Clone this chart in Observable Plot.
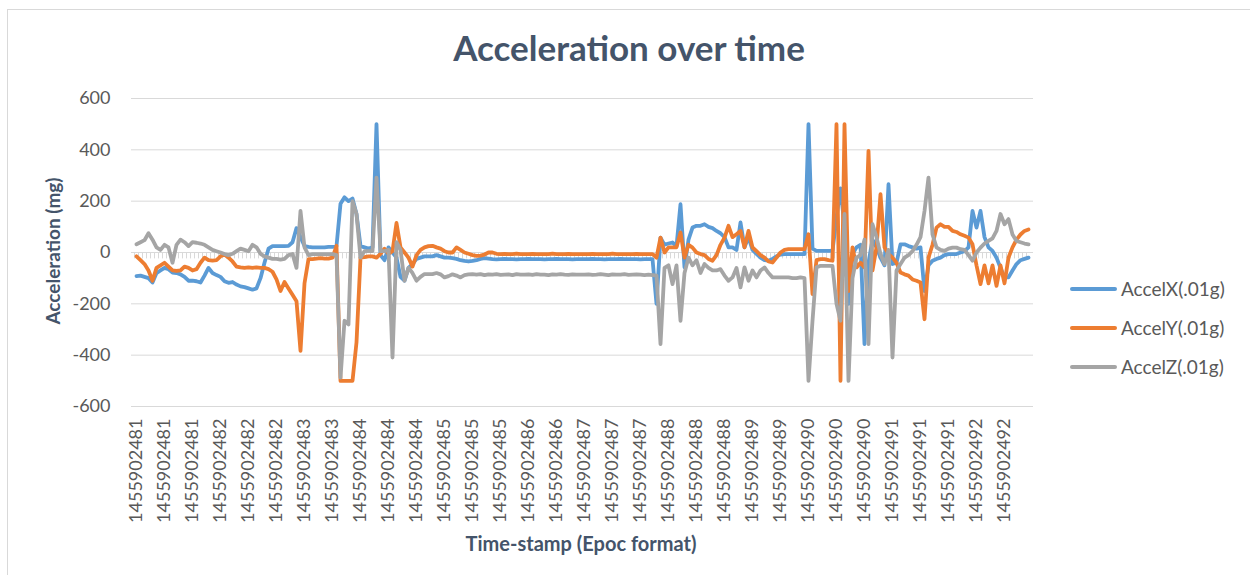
<!DOCTYPE html>
<html><head><meta charset="utf-8">
<script src="https://cdn.jsdelivr.net/npm/d3@7"></script>
<script src="https://cdn.jsdelivr.net/npm/@observablehq/plot@0.6"></script>
<style>
html,body{margin:0;padding:0;background:#fff;overflow:hidden;width:1250px;height:575px;position:relative;}
#frame{position:absolute;left:7px;top:9px;width:1400px;height:700px;border-left:1px solid #d9d9d9;border-top:1px solid #d9d9d9;}
#chart{position:absolute;left:0;top:0;}
.t{position:absolute;white-space:nowrap;line-height:1;font-family:Lato,"Open Sans",sans-serif;}
#title{left:0;width:1258px;text-align:center;top:30px;font-size:35px;font-weight:bold;color:#44546a;}
#ytitle{left:52px;top:251px;transform:translate(-50%,-50%) rotate(-90deg);font-size:19px;font-weight:bold;color:#44546a;}
#xtitle{left:581px;top:543px;transform:translate(-50%,-50%);font-size:20px;font-weight:bold;color:#44546a;}
.leg{position:absolute;left:1070px;height:0;}
.leg span.l{position:absolute;left:0;top:-2px;width:47px;height:4px;border-radius:2px;}
.leg span.x{position:absolute;left:51px;top:-10px;font-size:19px;color:#595959;line-height:1;white-space:nowrap;font-family:Lato,"Open Sans",sans-serif;}
</style></head>
<body>
<div id="frame"></div>
<div id="chart"></div>
<div class="t" id="title">Acceleration over time</div>
<div class="t" id="ytitle">Acceleration (mg)</div>
<div class="t" id="xtitle">Time-stamp (Epoc format)</div>
<div id="legend"></div>
<script>
// Category tick labels (one every 7 samples)
const tickLabels = [
  "1455902481","1455902481","1455902481","1455902482","1455902482","1455902482",
  "1455902483","1455902483","1455902484","1455902484","1455902484","1455902485",
  "1455902485","1455902485","1455902486","1455902486","1455902487","1455902487",
  "1455902487","1455902488","1455902488","1455902488","1455902489","1455902489",
  "1455902490","1455902490","1455902490","1455902491","1455902491","1455902491",
  "1455902492","1455902492"];
const labelStep = 7;

const seriesNames = ["AccelX(.01g)", "AccelY(.01g)", "AccelZ(.01g)"];
const seriesColors = ["#5b9bd5", "#ed7d31", "#a5a5a5"];

const accelX = [
  -92,-90,-95,-100,-117,-80,-70,-60,-65,-78,-80,-85,-95,-110,-110,-112,-117,-90,-60,-80,
  -88,-95,-112,-118,-115,-125,-132,-135,-140,-145,-140,-100,-40,15,25,25,25,
  25,26,40,95,60,25,22,20,20,20,20,22,22,25,190,215,200,210,150,25,
  20,15,20,500,-10,-30,20,0,-20,-95,-110,-60,-45,-25,-20,-15,-15,-15,
  -10,-15,-20,-20,-22,-25,-30,-33,-35,-33,-30,-25,-22,-24,
  -26,-27,-26,-25,-26,-26,-27,-26,-26,-25,-26,-26,-26,-27,-26,-26,-25,-26,-26,-26,-27,-26,-26,
  -26,-26,-25,-26,-26,-27,-26,-26,-26,-25,-26,-26,-26,-26,-27,-26,-26,-26,
  -200,58,30,35,39,25,188,-58,50,97,104,104,110,100,95,84,75,60,20,
  20,10,117,20,60,10,-5,-20,-30,-32,-25,-15,-8,-6,-6,-6,-6,-6,-6,500,
  15,6,6,6,6,6,136,250,100,-200,-6,20,30,-357,-40,50,20,
  -20,-50,266,-45,-40,32,32,25,20,15,20,-150,-50,-32,-25,-20,-10,-6,-6,-6,
  0,5,20,162,97,162,60,20,6,-20,-60,-97,-97,-70,-45,-30,-25,-20];

const accelY = [
  -15,-30,-45,-70,-110,-60,-50,-40,-55,-70,-72,-70,-55,-60,-70,-65,-40,-20,-30,-32,
  -30,-15,-8,-20,-35,-55,-58,-60,-58,-60,-58,-60,-60,-65,-75,-105,-150,
  -115,-140,-165,-190,-383,-120,-26,-26,-24,-22,-24,-24,-20,26,-500,-500,-500,-500,-350,-20,
  -18,-15,-15,-20,-5,15,-5,5,115,20,0,-20,-55,-10,10,20,25,26,
  20,15,5,0,0,20,10,0,-5,-10,-13,-12,-8,0,0,-5,
  -6,-5,-6,-6,-4,-6,-6,-6,-5,-6,-6,-6,-6,-4,-6,-6,-6,-5,-6,-6,-6,
  -6,-6,-5,-6,-6,-6,-6,-4,-6,-6,-6,-6,-6,-5,-6,-6,-6,-6,
  -20,58,0,20,20,20,78,-20,30,19,0,-6,-10,-25,-32,-10,30,58,104,
  60,71,84,20,84,20,5,-10,-20,-35,-39,-20,0,10,13,13,13,13,13,71,
  -162,-30,-26,-26,-30,-32,500,-500,500,-150,20,-58,-40,-58,396,-70,20,
  227,20,-6,-20,-40,-78,-85,-90,-105,-110,-117,-260,-20,30,97,110,100,100,84,80,
  71,65,58,32,-50,-123,-50,-120,-50,-130,-50,-120,-20,20,50,70,84,90];

const accelZ = [
  32,40,48,75,50,20,10,30,20,-40,30,50,40,25,40,38,35,30,20,10,
  5,0,-6,-10,-5,5,15,10,5,30,20,-5,-15,-20,-25,-25,-28,
  -25,-10,-6,-60,162,20,-10,-6,-6,-6,-6,-6,-6,-10,-487,-266,-280,200,150,-20,
  5,5,5,292,5,5,10,-409,40,10,-110,-60,-80,-110,-95,-84,-84,-84,
  -80,-85,-97,-92,-85,-90,-97,-88,-85,-84,
  -86,-84,-88,-85,-86,-84,-87,-86,-85,-88,-84,-86,-86,-85,-87,-84,-86,-86,-88,-85,-86,-84,-86,-87,-85,-86,-86,
  -86,-85,-87,-86,-84,-86,-88,-85,-86,-86,-84,-87,-86,-85,-86,-88,-86,-88,
  -90,-357,-60,-50,-123,-50,-266,-80,-20,-50,-30,-80,-45,-60,-70,-70,-65,-90,-110,
  -97,-60,-136,-58,-110,-70,-97,-70,-58,-80,-97,-97,-97,-97,-97,-100,-100,-97,-100,-500,
  -266,-58,-52,-52,-52,-52,-200,-266,150,-500,-100,-20,-10,50,-357,110,60,
  -6,-45,10,-409,-70,-45,-20,-10,5,30,60,162,292,70,20,10,6,15,19,19,
  13,10,-10,-32,0,19,35,45,55,84,150,110,130,70,45,40,35,32];

const yTicks = [-600,-400,-200,0,200,400,600];

const series = [accelX, accelY, accelZ];
const n = accelX.length;
const idx = d3.range(n);
const tickIdx = tickLabels.map((_, k) => k * labelStep);

const chart = Plot.plot({
  width: 1250,
  height: 575,
  marginLeft: 131,
  marginRight: 217,
  marginTop: 98,
  marginBottom: 169,
  style: {fontFamily: "Lato, 'Open Sans', sans-serif", fontSize: "18px", color: "#595959", background: "transparent", overflow: "visible"},
  x: {type: "point", domain: idx, padding: 0.5},
  y: {domain: [-600, 600]},
  marks: [
    Plot.gridY(yTicks, {stroke: "#d9d9d9", strokeOpacity: 1}),
    Plot.ruleX(idx, {x: d => d, dx: -2, y1: 0, y2: -25, stroke: "#d9d9d9"}),
    ...series.map((s, k) => Plot.lineY(s, {x: (d, i) => i, y: d => d, stroke: seriesColors[k], strokeWidth: 3.8})),
    Plot.axisY(yTicks, {tickSize: 0, tickPadding: 21, tickFormat: d => String(d), label: null, fill: "#595959", fontSize: 18}),
    Plot.axisX(tickIdx, {tickSize: 0, tickRotate: -90, tickPadding: 12, tickFormat: i => tickLabels[i / labelStep], label: null, fill: "#595959", fontSize: 18})
  ]
});
document.getElementById("chart").append(chart);

const legendY = [289, 328, 367];
const legend = document.getElementById("legend");
seriesNames.forEach((name, k) => {
  const row = document.createElement("div");
  row.className = "leg";
  row.style.top = legendY[k] + "px";
  row.innerHTML = `<span class="l" style="background:${seriesColors[k]}"></span><span class="x">${name}</span>`;
  legend.append(row);
});
</script>
</body></html>
